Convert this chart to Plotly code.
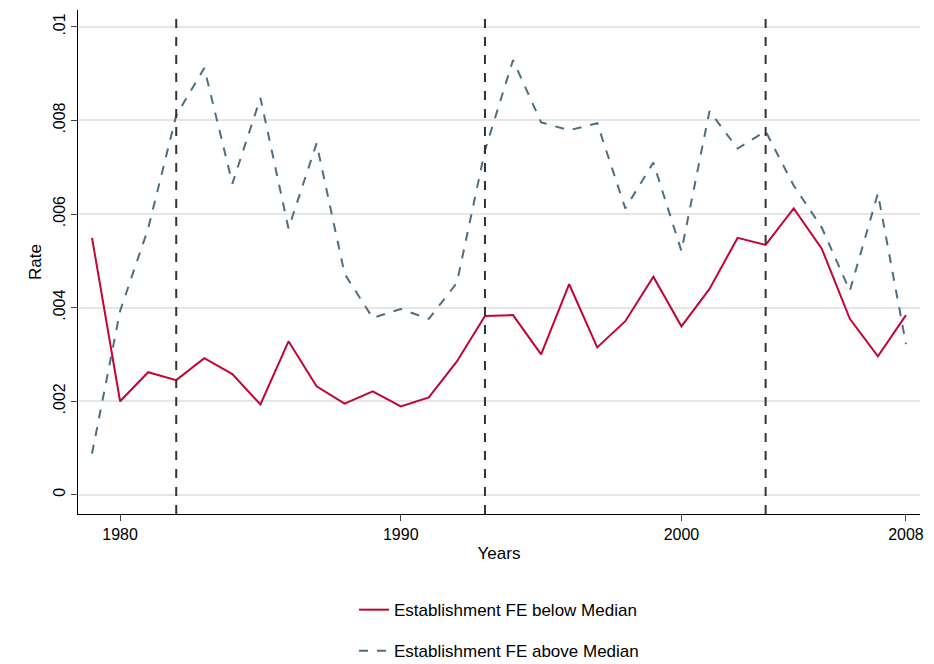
import plotly.graph_objects as go

years = list(range(1979, 2009))
below = [5.49,2.0,2.62,2.45,2.92,2.58,1.93,3.28,2.32,1.95,2.21,1.89,2.08,2.85,3.82,3.84,3.0,4.5,3.15,3.71,4.66,3.6,4.4,5.49,5.34,6.12,5.26,3.76,2.96,3.84]
above = [0.88,3.93,5.69,8.11,9.12,6.65,8.48,5.69,7.51,4.72,3.78,3.97,3.76,4.53,7.36,9.29,7.96,7.79,7.94,6.12,7.1,5.21,8.2,7.4,7.77,6.61,5.71,4.36,6.44,3.22]
below = [v/1000 for v in below]
above = [v/1000 for v in above]
vlines = [1982, 1993, 2003]
yticks = [0, 0.002, 0.004, 0.006, 0.008, 0.01]
ytext = ["0", ".002", ".004", ".006", ".008", ".01"]
xticks = [1980, 1990, 2000, 2008]

fig = go.Figure()
fig.add_trace(go.Scatter(x=years, y=below, mode="lines", name="Establishment FE below Median",
                         legendgroup="a", line=dict(color="#C10534", width=2)))
fig.add_trace(go.Scatter(x=years, y=above, mode="lines", name="Establishment FE above Median",
                         legendgroup="b", line=dict(color="#4E6D80", width=2, dash="dash")))
for v in vlines:
    fig.add_vline(x=v, line=dict(color="#333333", width=2, dash="dash"))

fig.update_layout(
    width=934, height=664, plot_bgcolor="white", paper_bgcolor="white",
    margin=dict(l=70, r=22, t=2, b=158),
    font=dict(family="Liberation Sans, Arial", size=16, color="black"),
    legend=dict(orientation="v", x=0.5, xanchor="center", y=-0.155, yanchor="top",
                font=dict(size=17), tracegroupgap=16),
    xaxis=dict(range=[1978.5, 2008.5], tickvals=xticks, ticks="outside", ticklen=6,
               showline=True, linecolor="black", showgrid=False, zeroline=False,
               automargin=False, title=dict(text="Years", standoff=4, font=dict(size=17))),
    yaxis=dict(range=[-0.00041, 0.01036], tickvals=yticks, ticktext=ytext, tickangle=-90,
               ticks="outside", ticklen=6, showline=True, linecolor="black",
               showgrid=True, gridcolor="#e6e6e6", gridwidth=1.5, zeroline=False,
               automargin=False, title=dict(text="Rate", standoff=4, font=dict(size=17))),
)
fig.write_html("out.html")
